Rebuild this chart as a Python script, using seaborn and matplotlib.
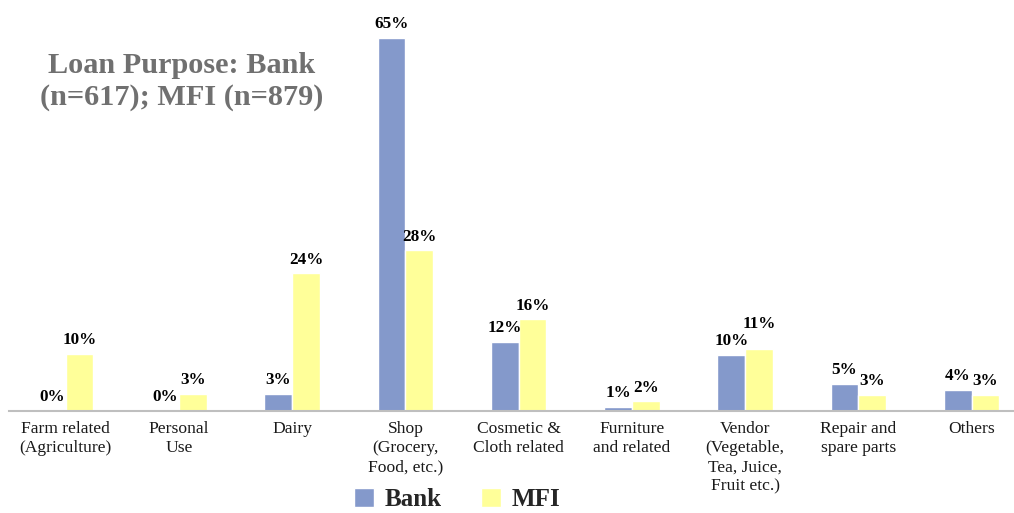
import pandas as pd
import matplotlib.pyplot as plt
import seaborn as sns
from matplotlib.patches import Patch

# data
categories = ['Farm related\n(Agriculture)', 'Personal\nUse', 'Dairy',
              'Shop\n(Grocery,\nFood, etc.)', 'Cosmetic &\nCloth related',
              'Furniture\nand related', 'Vendor\n(Vegetable,\nTea, Juice,\nFruit etc.)',
              'Repair and\nspare parts', 'Others']
bank = [0, 0, 3, 65, 12, 0.7, 9.8, 4.7, 3.7]
mfi = [10, 3, 24, 28, 16, 1.7, 10.8, 2.8, 2.8]
groups = ['Bank', 'MFI']
colors = ['#8499CB', '#FFFF99']

df = pd.DataFrame({'Purpose': categories * 2,
                   'Group': ['Bank'] * len(categories) + ['MFI'] * len(categories),
                   'Share': bank + mfi})

sns.set_style('white')
plt.rcParams['font.family'] = ['Liberation Serif', 'DejaVu Serif']

fig = plt.figure(figsize=(10.14, 5.13), dpi=100)
ax = fig.add_axes([0.009, 0.199, 0.991, 0.783])

sns.barplot(data=df, x='Purpose', y='Share', hue='Group', palette=colors,
            width=0.49, saturation=1, ax=ax, legend=False)

all_labels = []
for cont in ax.containers:
    all_labels.append(ax.bar_label(cont, labels=[f'{v:.0f}%' for v in cont.datavalues],
                                   padding=4, fontsize=12.3, fontweight='bold', color='black'))
# vendor MFI label is lifted in the original to clear the Bank label
all_labels[1][6].xyann = (0, 12)

ax.set_xlim(-0.5, 8.374)
ax.set_ylim(0, 70)
ax.set_xlabel('')
ax.set_ylabel('')
ax.set_yticks([])
ax.tick_params(axis='x', length=0, pad=7, labelsize=12.6, colors='#1a1a1a')
for lbl in ax.get_xticklabels():
    lbl.set_linespacing(1.28)
for s in ['top', 'right', 'left']:
    ax.spines[s].set_visible(False)
ax.spines['bottom'].set_color('#BFBFBF')
ax.spines['bottom'].set_linewidth(1.5)

fig.text(0.179, 0.842, 'Loan Purpose: Bank\n(n=617); MFI (n=879)', ha='center', va='center',
         fontsize=21.8, fontweight='bold', color='#707070', linespacing=1.22)

handles = [Patch(facecolor=c, label=g) for c, g in zip(colors, groups)]
fig.legend(handles=handles, loc='center', bbox_to_anchor=(0.451, 0.027), ncol=2,
           frameon=False, prop={'size': 18, 'weight': 'bold'}, handlelength=0.8,
           handleheight=0.8, columnspacing=1.6, handletextpad=0.4,
           borderpad=0.1)

plt.savefig('out.png', dpi=100)
